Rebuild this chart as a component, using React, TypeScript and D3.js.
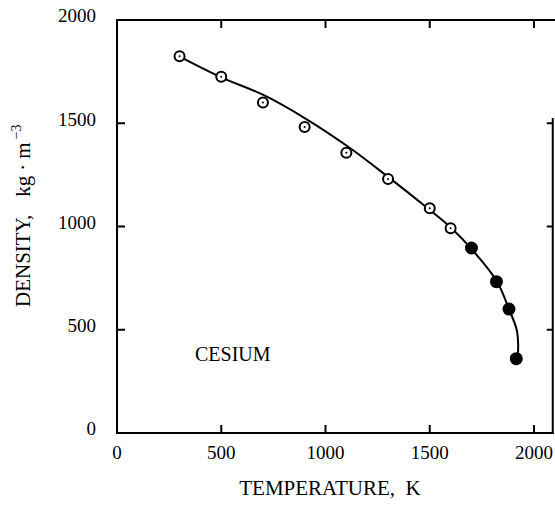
import React, { useEffect, useRef } from "react";
import * as d3 from "d3";

// --- data ---
// open circles (measured liquid density)
const openTemps = [300, 500, 700, 900, 1100, 1300, 1500, 1600];
const openDensity = [1825, 1725, 1600, 1482, 1357, 1230, 1088, 991];
// filled circles (high temperature points)
const filledTemps = [1700, 1820, 1880, 1915];
const filledDensity = [896, 733, 600, 360];
// smooth curve drawn through the points
const curveTemps = [294, 494, 702, 902, 1109, 1294, 1490, 1602, 1701, 1821, 1880, 1917, 1924, 1922];
const curveDensity = [1826, 1725, 1637, 1524, 1386, 1245, 1088, 994, 890, 736, 600, 500, 430, 362];

const xTickValues = [500, 1000, 1500, 2000];
const xLabelValues = [0, 500, 1000, 1500, 2000];
const yTickValues = [500, 1000, 1500];
const yLabelValues = [0, 500, 1000, 1500, 2000];

const W = 555;
const H = 505;
const FONT = "'Liberation Serif', 'Times New Roman', serif";

function DensityChart() {
  const svgRef = useRef<SVGSVGElement>(null);

  useEffect(() => {
    const svg = d3.select(svgRef.current);
    svg.selectAll("*").remove();

    const x = d3.scaleLinear().domain([0, 2000]).range([117, 534]);
    const y = d3.scaleLinear().domain([0, 2000]).range([433, 20]);

    const left = x(0);
    const right = x(2090);
    const top = y(2000);
    const bottom = y(0);

    // --- frame (right side is cut short in the scan) ---
    const frame = svg.append("g").attr("stroke", "#000").attr("stroke-width", 2).attr("fill", "none");
    frame.append("line").attr("x1", left).attr("x2", left).attr("y1", top - 1).attr("y2", bottom + 1);
    frame.append("line").attr("x1", left).attr("x2", W).attr("y1", top).attr("y2", top);
    frame.append("line").attr("x1", left).attr("x2", right + 1).attr("y1", bottom).attr("y2", bottom);
    frame.append("line").attr("x1", right).attr("x2", right).attr("y1", y(1525)).attr("y2", bottom);

    // ticks, all pointing inwards
    xTickValues.forEach(v => {
      frame.append("line").attr("x1", x(v)).attr("x2", x(v)).attr("y1", top).attr("y2", top + 8);
      frame.append("line").attr("x1", x(v)).attr("x2", x(v)).attr("y1", bottom).attr("y2", bottom - 8);
    });
    yTickValues.forEach(v => {
      frame.append("line").attr("x1", left).attr("x2", left + 8).attr("y1", y(v)).attr("y2", y(v));
      frame.append("line").attr("x1", right).attr("x2", right - 6).attr("y1", y(v)).attr("y2", y(v));
    });

    // tick labels
    const labels = svg.append("g").attr("font-family", FONT).attr("font-size", 19).attr("fill", "#000");
    labels.selectAll("text.xl")
      .data(xLabelValues)
      .join("text")
      .attr("class", "xl")
      .attr("x", d => x(d))
      .attr("y", 459)
      .attr("text-anchor", "middle")
      .text(d => d);
    labels.selectAll("text.yl")
      .data(yLabelValues)
      .join("text")
      .attr("class", "yl")
      .attr("x", 96)
      .attr("y", d => y(d) - 4)
      .attr("dy", "0.34em")
      .attr("text-anchor", "end")
      .text(d => d);

    // axis titles
    svg.append("text")
      .attr("x", 330)
      .attr("y", 495)
      .attr("text-anchor", "middle")
      .attr("font-family", FONT)
      .attr("font-size", 21)
      .attr("xml:space", "preserve")
      .text("TEMPERATURE,  K");

    const yt = svg.append("text")
      .attr("transform", "translate(30,307) rotate(-90)")
      .attr("font-family", FONT)
      .attr("font-size", 21)
      .attr("xml:space", "preserve");
    yt.append("tspan").text("DENSITY,");
    yt.append("tspan").attr("dx", 18).text("kg");
    yt.append("tspan").attr("dx", 5).text("·");
    yt.append("tspan").attr("dx", 5).text("m");
    yt.append("tspan").attr("dx", 3).attr("dy", -9).attr("font-size", 14).text("−3");

    svg.append("text")
      .attr("x", 195)
      .attr("y", 361)
      .attr("font-family", FONT)
      .attr("font-size", 20)
      .text("CESIUM");

    // --- curve ---
    const line = d3.line<number>()
      .x(i => x(curveTemps[i]))
      .y(i => y(curveDensity[i]))
      .curve(d3.curveCatmullRom.alpha(0.5));

    svg.append("path")
      .attr("d", line(d3.range(curveTemps.length)))
      .attr("fill", "none")
      .attr("stroke", "#000")
      .attr("stroke-width", 2);

    // --- markers ---
    const open = svg.append("g").selectAll("g")
      .data(d3.range(openTemps.length))
      .join("g")
      .attr("transform", i => `translate(${x(openTemps[i])},${y(openDensity[i])})`);
    open.append("circle").attr("r", 5).attr("fill", "#fff").attr("stroke", "#000").attr("stroke-width", 2);
    open.append("circle").attr("r", 1).attr("fill", "#000");

    svg.append("g").selectAll("circle")
      .data(d3.range(filledTemps.length))
      .join("circle")
      .attr("cx", i => x(filledTemps[i]))
      .attr("cy", i => y(filledDensity[i]))
      .attr("r", 6.5)
      .attr("fill", "#000");
  }, []);

  return (
    <svg
      ref={svgRef}
      width={W}
      height={H}
      style={{ position: "absolute", left: 0, top: 0, background: "#fff" }}
    ></svg>
  );
}

export default function App() {
  return <DensityChart />;
}
